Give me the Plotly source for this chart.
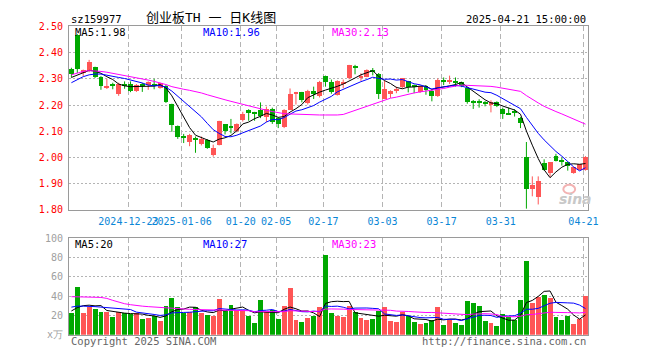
import plotly.graph_objects as go

W, H = 660, 360

# ---------------- data ----------------
open_ = [2.336, 2.467, 2.320, 2.329, 2.343, 2.307, 2.264, 2.275, 2.242, 2.275,
         2.280, 2.254, 2.280, 2.275, 2.277, 2.264, 2.272, 2.202, 2.120, 2.077,
         2.058, 2.072, 2.051, 2.066, 2.009, 2.046, 2.127, 2.113, 2.098, 2.141,
         2.180, 2.166, 2.178, 2.153, 2.184, 2.150, 2.116, 2.181, 2.242, 2.248,
         2.206, 2.254, 2.232, 2.309, 2.285, 2.237, 2.280, 2.300, 2.342, 2.305,
         2.307, 2.334, 2.317, 2.223, 2.239, 2.255, 2.266, 2.289, 2.271, 2.248,
         2.272, 2.251, 2.233, 2.295, 2.285, 2.286, 2.285, 2.263, 2.210, 2.210,
         2.205, 2.199, 2.210, 2.184, 2.166, 2.172, 2.150, 2.000, 1.877, 1.848,
         1.976, 1.940, 2.005, 1.986, 1.981, 1.940, 1.953, 1.953]
high = [2.342, 2.470, 2.335, 2.372, 2.346, 2.310, 2.300, 2.285, 2.285, 2.290,
        2.290, 2.280, 2.284, 2.290, 2.300, 2.285, 2.276, 2.205, 2.122, 2.090,
        2.090, 2.080, 2.080, 2.070, 2.049, 2.140, 2.127, 2.147, 2.130, 2.174,
        2.184, 2.174, 2.210, 2.194, 2.190, 2.154, 2.184, 2.263, 2.250, 2.250,
        2.258, 2.270, 2.292, 2.312, 2.297, 2.294, 2.297, 2.353, 2.353, 2.321,
        2.336, 2.341, 2.322, 2.293, 2.256, 2.270, 2.303, 2.292, 2.278, 2.272,
        2.276, 2.257, 2.301, 2.305, 2.312, 2.305, 2.289, 2.266, 2.219, 2.222,
        2.215, 2.218, 2.214, 2.190, 2.190, 2.184, 2.154, 2.059, 1.928, 1.928,
        1.993, 1.981, 2.014, 2.000, 1.981, 1.965, 1.973, 2.005]
low = [2.305, 2.322, 2.310, 2.325, 2.303, 2.258, 2.261, 2.260, 2.235, 2.262,
       2.249, 2.250, 2.250, 2.258, 2.260, 2.262, 2.208, 2.098, 2.071, 2.055,
       2.043, 2.018, 2.046, 2.033, 2.003, 2.046, 2.088, 2.092, 2.096, 2.137,
       2.140, 2.140, 2.150, 2.135, 2.128, 2.112, 2.112, 2.181, 2.202, 2.210,
       2.202, 2.223, 2.229, 2.270, 2.243, 2.236, 2.264, 2.298, 2.317, 2.292,
       2.306, 2.313, 2.223, 2.223, 2.227, 2.245, 2.264, 2.248, 2.245, 2.246,
       2.239, 2.214, 2.231, 2.276, 2.280, 2.270, 2.268, 2.205, 2.185, 2.190,
       2.195, 2.172, 2.192, 2.147, 2.162, 2.156, 2.112, 1.805, 1.852, 1.821,
       1.950, 1.926, 1.985, 1.969, 1.950, 1.938, 1.951, 1.950]
close = [2.316, 2.337, 2.331, 2.364, 2.307, 2.270, 2.272, 2.273, 2.280, 2.272,
         2.254, 2.277, 2.270, 2.285, 2.275, 2.282, 2.212, 2.122, 2.076, 2.075,
         2.085, 2.069, 2.070, 2.036, 2.036, 2.137, 2.098, 2.112, 2.128, 2.165,
         2.170, 2.165, 2.157, 2.184, 2.135, 2.125, 2.181, 2.239, 2.248, 2.218,
         2.254, 2.242, 2.285, 2.288, 2.248, 2.292, 2.285, 2.350, 2.340, 2.309,
         2.334, 2.324, 2.239, 2.260, 2.254, 2.258, 2.300, 2.266, 2.268, 2.270,
         2.257, 2.233, 2.295, 2.285, 2.295, 2.284, 2.270, 2.210, 2.208, 2.208,
         2.203, 2.210, 2.195, 2.165, 2.164, 2.170, 2.130, 1.877, 1.893, 1.911,
         1.953, 1.981, 1.987, 1.984, 1.965, 1.963, 1.973, 2.002]

ma5 = [2.305, 2.315, 2.325, 2.332, 2.329, 2.321, 2.308, 2.297, 2.280, 2.273,
       2.270, 2.271, 2.271, 2.272, 2.272, 2.278, 2.265, 2.235, 2.193, 2.153,
       2.114, 2.085, 2.075, 2.067, 2.059, 2.070, 2.075, 2.084, 2.102, 2.128,
       2.135, 2.148, 2.157, 2.168, 2.162, 2.153, 2.156, 2.173, 2.186, 2.202,
       2.228, 2.240, 2.249, 2.257, 2.263, 2.271, 2.280, 2.293, 2.303, 2.315,
       2.324, 2.331, 2.309, 2.293, 2.282, 2.267, 2.262, 2.268, 2.269, 2.272,
       2.272, 2.259, 2.265, 2.268, 2.273, 2.278, 2.286, 2.269, 2.253, 2.236,
       2.220, 2.208, 2.205, 2.196, 2.187, 2.181, 2.165, 2.101, 2.047, 1.996,
       1.953, 1.923, 1.945, 1.963, 1.974, 1.976, 1.974, 1.977]
ma10 = [2.285, 2.298, 2.308, 2.315, 2.318, 2.318, 2.313, 2.310, 2.305, 2.301,
        2.296, 2.290, 2.284, 2.276, 2.273, 2.274, 2.268, 2.253, 2.233, 2.213,
        2.196, 2.175, 2.155, 2.130, 2.106, 2.092, 2.080, 2.079, 2.085, 2.094,
        2.102, 2.112, 2.120, 2.135, 2.145, 2.144, 2.152, 2.165, 2.177, 2.182,
        2.191, 2.198, 2.211, 2.222, 2.233, 2.250, 2.260, 2.271, 2.280, 2.289,
        2.297, 2.306, 2.301, 2.298, 2.299, 2.295, 2.297, 2.288, 2.281, 2.277,
        2.270, 2.261, 2.266, 2.269, 2.273, 2.275, 2.272, 2.267, 2.261, 2.255,
        2.249, 2.247, 2.237, 2.225, 2.212, 2.200, 2.186, 2.153, 2.122, 2.092,
        2.067, 2.044, 2.023, 2.005, 1.985, 1.964, 1.949, 1.961]
ma30 = [2.315, 2.322, 2.328, 2.331, 2.330, 2.328, 2.325, 2.321, 2.317, 2.313,
        2.309, 2.305, 2.300, 2.295, 2.290, 2.285, 2.278, 2.270, 2.264, 2.260,
        2.256, 2.252, 2.246, 2.239, 2.232, 2.226, 2.220, 2.214, 2.208, 2.203,
        2.198, 2.192, 2.186, 2.180, 2.175, 2.170, 2.167, 2.166, 2.165, 2.163,
        2.163, 2.162, 2.162, 2.162, 2.161, 2.162, 2.164, 2.172, 2.181, 2.188,
        2.197, 2.205, 2.211, 2.218, 2.226, 2.230, 2.236, 2.241, 2.246, 2.250,
        2.253, 2.255, 2.259, 2.263, 2.268, 2.273, 2.276, 2.275, 2.274, 2.274,
        2.272, 2.271, 2.268, 2.264, 2.261, 2.257, 2.252, 2.236, 2.221, 2.208,
        2.195, 2.184, 2.175, 2.166, 2.157, 2.147, 2.136, 2.127]

volume = [22.2, 48.8, 22.8, 28.8, 26.2, 23.8, 23.2, 18.2, 23.8, 22.5,
          21.5, 22.5, 16.2, 17.2, 19.8, 13.8, 29.8, 37.8, 28.8, 22.5,
          23.8, 28.8, 22.2, 20.2, 19.2, 36.8, 24.8, 30.8, 25.8, 24.8,
          19.2, 12.2, 35.8, 23.8, 25.5, 16.2, 29.8, 47.8, 14.8, 13.2,
          16.8, 19.8, 28.8, 82.8, 22.2, 19.2, 18.2, 29.8, 23.8, 16.8,
          14.8, 15.8, 24.2, 28.8, 13.8, 12.8, 23.2, 19.2, 13.2, 10.8,
          12.2, 14.8, 28.8, 9.8, 14.8, 12.2, 10.2, 34.8, 32.8, 29.2,
          13.8, 11.8, 9.2, 21.8, 17.8, 14.8, 35.8, 75.8, 32.8, 38.8,
          40.8, 37.8, 17.8, 15.5, 19.5, 11.0, 16.5, 39.5]
vol_ma5 = [24.5, 28.0, 30.0, 30.5, 29.8, 30.1, 25.0, 24.0, 23.0, 22.3,
           21.8, 21.7, 21.3, 20.0, 19.4, 17.9, 19.4, 23.7, 26.0, 26.5,
           28.5, 28.3, 25.2, 23.5, 22.8, 25.4, 24.6, 26.4, 27.5, 28.6,
           25.1, 22.6, 23.6, 23.2, 23.3, 22.7, 26.2, 28.6, 26.8, 24.4,
           24.5, 22.5, 18.7, 32.3, 34.1, 34.6, 34.2, 34.4, 22.6, 21.6,
           20.7, 20.2, 19.1, 20.1, 19.5, 19.1, 20.6, 19.6, 16.4, 15.8,
           15.7, 14.0, 16.0, 15.3, 16.1, 16.1, 15.2, 16.4, 21.0, 23.8,
           24.2, 24.5, 19.4, 17.2, 14.9, 15.1, 19.9, 33.2, 35.4, 39.6,
           44.8, 45.2, 33.6, 30.1, 26.3, 20.3, 16.1, 20.4]
vol_ma10 = [28.5, 29.5, 29.5, 29.5, 29.0, 28.5, 28.0, 27.5, 26.8, 26.0,
            26.0, 23.3, 22.7, 21.5, 20.9, 19.9, 20.5, 22.5, 23.0, 23.0,
            23.2, 23.9, 24.5, 24.8, 24.7, 27.0, 26.5, 25.8, 25.5, 25.7,
            25.3, 23.6, 25.0, 25.3, 26.0, 23.9, 24.4, 26.1, 25.0, 23.8,
            23.6, 24.4, 23.7, 29.6, 29.2, 29.5, 28.4, 26.6, 27.5, 27.8,
            27.6, 27.2, 26.8, 21.4, 20.5, 19.9, 20.4, 19.3, 18.3, 17.7,
            17.4, 17.3, 17.8, 15.9, 16.0, 15.9, 14.6, 16.2, 18.1, 20.0,
            20.1, 19.8, 17.9, 19.1, 19.4, 19.6, 22.2, 26.3, 26.3, 27.2,
            29.9, 32.5, 33.4, 32.8, 32.9, 32.6, 30.6, 27.0]
vol_ma30 = [39.3, 39.3, 39.0, 38.8, 38.7, 38.5, 37.5, 35.5, 33.5, 32.0,
            31.0, 30.0, 29.5, 29.0, 28.5, 28.0, 27.5, 27.0, 26.8, 26.5,
            26.2, 26.0, 25.8, 25.6, 25.4, 25.3, 25.2, 25.1, 25.0, 24.9,
            24.8, 23.6, 24.0, 23.9, 23.8, 23.6, 23.8, 24.8, 24.5, 24.2,
            24.0, 23.9, 24.4, 26.5, 26.6, 26.8, 26.4, 26.1, 26.0, 25.8,
            25.5, 25.1, 25.1, 25.4, 25.2, 24.4, 24.4, 24.0, 23.6, 23.1,
            22.9, 23.0, 22.7, 22.3, 21.9, 21.8, 21.1, 20.7, 21.3, 21.8,
            21.7, 21.4, 20.8, 18.8, 18.6, 18.5, 19.1, 20.6, 20.9, 21.6,
            22.5, 23.2, 23.0, 22.6, 22.8, 22.7, 22.5, 23.1]

date_tick_index = [10, 19, 29, 35, 43, 53, 63, 73, 87]
date_tick_labels = ["2024-12-23", "2025-01-06", "01-20", "02-05", "02-17",
                    "03-03", "03-17", "03-31", "04-21"]
price_ticks = [1.8, 1.9, 2.0, 2.1, 2.2, 2.3, 2.4, 2.5]
price_tick_labels = ["1.80", "1.90", "2.00", "2.10", "2.20", "2.30", "2.40", "2.50"]
vol_ticks = [0, 20, 40, 60, 80, 100]
vol_tick_labels = ["x万", "20", "40", "60", "80", "100"]

code_text = "sz159977"
title_text = "创业板TH 一 日K线图"
time_text = "2025-04-21 15:00:00"
ma_price_labels = ["MA5:1.98", "MA10:1.96", "MA30:2.13"]
ma_vol_labels = ["MA5:20", "MA10:27", "MA30:23"]
copyright_text = "Copyright 2025 SINA.COM"
url_text = "http://finance.sina.com.cn"

# ---------------- styling ----------------
RED = "#ff5555"
GREEN = "#00a800"
MA_COLORS = ["#000000", "#0000ff", "#ff00ff"]
MONO = "DejaVu Sans Mono"
GRID = "#b4b4b4"
FRAME = "#9a9a9a"


def px(x):
    return x / W


def py(y):
    return 1 - y / H


n = len(close)
idx = list(range(n))
up = [c >= o for o, c in zip(open_, close)]
colors = [RED if u else GREEN for u in up]
body_base = [min(o, c) for o, c in zip(open_, close)]
body_h = [max(abs(c - o), 0.004) for o, c in zip(open_, close)]

fig = go.Figure()

# wicks
for col, flag in ((RED, True), (GREEN, False)):
    xs, ys = [], []
    for i in idx:
        if up[i] == flag:
            xs += [i, i, None]
            ys += [low[i], high[i], None]
    fig.add_trace(go.Scatter(x=xs, y=ys, mode="lines", line=dict(color=col, width=1),
                             xaxis="x", yaxis="y", hoverinfo="skip"))

# candle bodies
fig.add_trace(go.Bar(x=idx, y=body_h, base=body_base, width=0.83,
                     marker=dict(color=colors, line=dict(width=0)),
                     xaxis="x", yaxis="y", hoverinfo="skip"))

for vals, col in zip((ma5, ma10, ma30), MA_COLORS):
    fig.add_trace(go.Scatter(x=idx, y=vals, mode="lines", line=dict(color=col, width=1),
                             xaxis="x", yaxis="y", hoverinfo="skip"))

# volume
fig.add_trace(go.Bar(x=idx, y=volume, width=0.83,
                     marker=dict(color=colors, line=dict(width=0)),
                     xaxis="x2", yaxis="y2", hoverinfo="skip"))
for vals, col in zip((vol_ma5, vol_ma10, vol_ma30), MA_COLORS):
    fig.add_trace(go.Scatter(x=idx, y=vals, mode="lines", line=dict(color=col, width=1),
                             xaxis="x2", yaxis="y2", hoverinfo="skip"))

x_dom = [px(70), px(597)]
x_range = [-0.417, n - 1 + 0.417]
grid_x = [i - 0.35 for i in date_tick_index]

common_x = dict(domain=x_dom, range=x_range, tickmode="array", tickvals=grid_x,
                showgrid=True, gridcolor=GRID, griddash="5px,3px", gridwidth=1,
                showline=True, mirror=True, linecolor=FRAME, linewidth=1,
                zeroline=False, ticks="", fixedrange=True)

fig.update_layout(
    width=W, height=H,
    margin=dict(l=0, r=0, t=0, b=0),
    paper_bgcolor="white", plot_bgcolor="white",
    showlegend=False, barmode="overlay", bargap=0,
    xaxis=dict(**common_x, anchor="y", ticktext=date_tick_labels, tickangle=0,
               showticklabels=True, ticklabelstandoff=2,
               tickfont=dict(family=MONO, size=10, color="#0a86d6")),
    xaxis2=dict(**common_x, anchor="y2", matches="x", showticklabels=False),
    yaxis=dict(domain=[py(211), py(21)], range=[1.8, 2.5], anchor="x",
               tickmode="array", tickvals=price_ticks, ticktext=price_tick_labels,
               tickfont=dict(family=MONO, size=10, color="#ff0000"),
               showgrid=True, gridcolor=GRID, griddash="2px,2px", gridwidth=1,
               showline=True, mirror=True, linecolor=FRAME, linewidth=1,
               zeroline=False, ticks="", ticklabelstandoff=3, fixedrange=True),
    yaxis2=dict(domain=[py(340), py(240)], range=[0, 100], anchor="x2",
                tickmode="array", tickvals=vol_ticks, ticktext=vol_tick_labels,
                tickfont=dict(family=MONO, size=10, color="#a0a0a0"),
                showgrid=True, gridcolor=GRID, griddash="2px,2px", gridwidth=1,
                showline=True, mirror=True, linecolor=FRAME, linewidth=1,
                zeroline=False, ticks="", ticklabelstandoff=3, fixedrange=True),
)

ann = []


def text(x, y, s, color="#000000", size=10, anchor="left", family=MONO, **kw):
    ann.append(dict(x=px(x), y=py(y), xref="paper", yref="paper", text=s,
                    showarrow=False, xanchor=anchor, yanchor="middle",
                    font=dict(family=family, size=size, color=color, **kw)))


text(70, 13, code_text, size=10.5)
text(214, 12, title_text, size=13, anchor="center", family=MONO + ", Noto Sans CJK SC")
text(597, 13, time_text, size=10.5, anchor="right")
for s, x, col in zip(ma_price_labels, (74, 204, 335), MA_COLORS):
    text(x, 26.5, s, color=col, size=10.5)
for s, x, col in zip(ma_vol_labels, (74, 204, 335), MA_COLORS):
    text(x, 246, s, color=col, size=10.5)
text(70, 347, copyright_text, color="#666666", size=10.5)
text(597, 347, url_text, color="#666666", size=10.5, anchor="right")
text(584, 200, "sina", color="#c8c8c8", size=14, anchor="center",
     family="DejaVu Sans", weight="bold", style="italic")

fig.update_layout(annotations=ann)
fig.add_shape(type="circle", xref="paper", yref="paper",
              x0=px(572), x1=px(584), y0=py(194), y1=py(185),
              line=dict(color="#f3b3b3", width=2))

fig.write_html("out.html", config={"displayModeBar": False},
               post_script="document.body.style.margin='0';")
